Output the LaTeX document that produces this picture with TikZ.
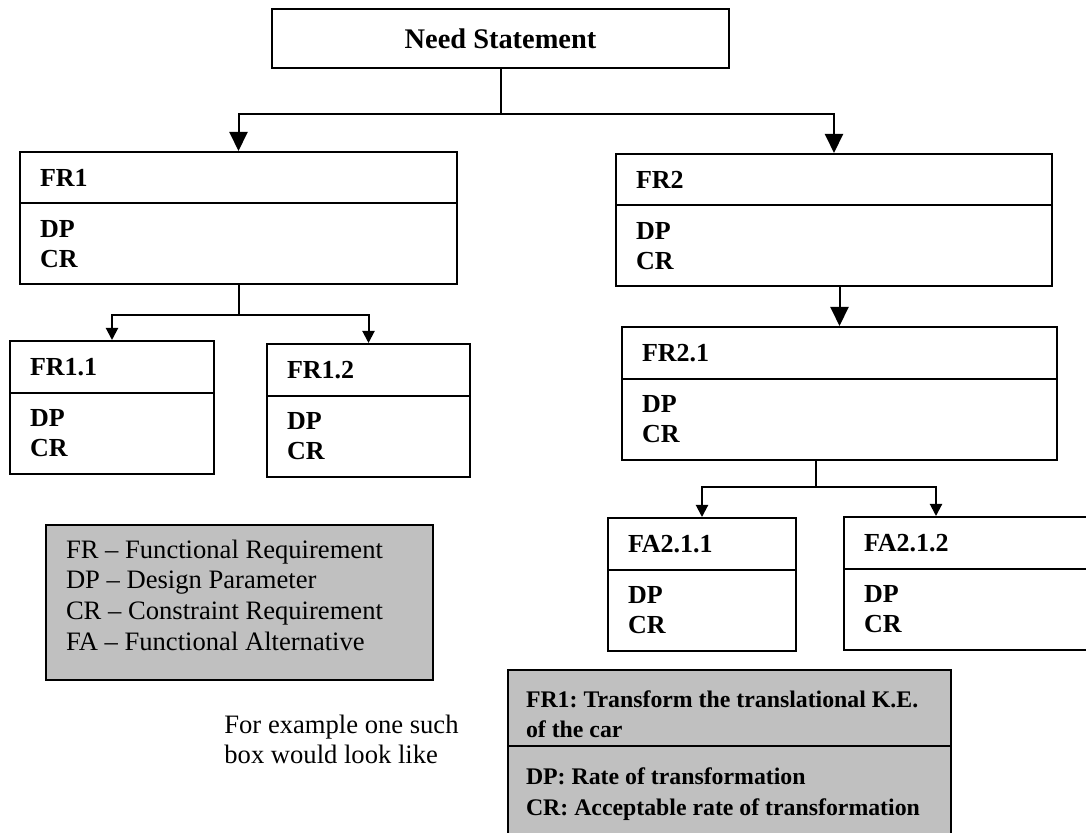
\documentclass[tikz,border=0pt]{standalone}
\usepackage{fontspec}
\setmainfont{Liberation Serif}
\usetikzlibrary{positioning,arrows.meta,shapes}
\definecolor{boxgray}{HTML}{C0C0C0}
\frenchspacing

\begin{document}
\begin{tikzpicture}[
    x=0.5pt, y=-0.5pt,
    reqbox/.style={draw, line width=1pt, rectangle split, rectangle split parts=2, rectangle split part align=left, align=flush left, anchor=north west, inner xsep=10pt, inner ysep=8pt, font=\bfseries\fontsize{13}{15}\selectfont},
    needbox/.style={draw, line width=1pt, minimum width=228.5pt, minimum height=29.5pt, font=\bfseries\fontsize{14.2}{17}\selectfont},
    legendbox/.style={draw, line width=1pt, fill=boxgray, anchor=north west, align=flush left, text width=173.5pt, inner xsep=10pt, inner ysep=0pt, font=\fontsize{13.3}{15.5}\selectfont},
    examplebox/.style={reqbox, fill=boxgray, inner xsep=9pt, inner ysep=0pt, font=\bfseries\fontsize{11.9}{15.25}\selectfont},
    notetext/.style={anchor=north west, align=left, inner sep=0pt, font=\fontsize{13.3}{15}\selectfont},
    bigarrow/.style={line width=1pt, -{Triangle[width=9pt,length=9.5pt]}},
    smallarrow/.style={line width=1pt, -{Triangle[width=6pt,length=6pt]}},
]
    \useasboundingbox (0,0) rectangle (1086,833);

    \node[needbox] (need) at (500.5,38.5) {Need Statement};

    \node[reqbox, text width=198.5pt] (fr1) at (19,151) {FR1\nodepart{two}DP\\CR};
    \node[reqbox, text width=198pt] (fr2) at (615,153) {FR2\nodepart{two}DP\\CR};
    \node[reqbox, text width=82pt] (fr11) at (9,340) {FR1.1\nodepart{two}DP\\CR};
    \node[reqbox, text width=81.5pt] (fr12) at (266,343) {FR1.2\nodepart{two}DP\\CR};
    \node[reqbox, text width=197.5pt] (fr21) at (621,326) {FR2.1\nodepart{two}DP\\CR};
    \node[reqbox, text width=74pt] (fa211) at (607,517) {FA2.1.1\nodepart{two}DP\\CR};
    \node[reqbox, text width=103.5pt] (fa212) at (843,516) {FA2.1.2\nodepart{two}DP\\CR};

    \node[legendbox] (legend) at (45,524) {\rule{0pt}{16.5pt}FR -- Functional Requirement\\DP -- Design Parameter\\CR -- Constraint Requirement\\FA -- Functional Alternative\rule[-14.5pt]{0pt}{14.5pt}};

    \node[notetext] (note) at (224,713) {\rule{0pt}{10pt}For example one such\\box would look like};

    \node[examplebox, text width=203.5pt] (example) at (507,669) {\rule{0pt}{18pt}FR1: Transform the translational K.E.\\of the car\rule[-3.5pt]{0pt}{3.5pt}\nodepart{two}\rule{0pt}{19pt}DP: Rate of transformation\\CR: Acceptable rate of transformation\rule[-30pt]{0pt}{30pt}};

    % connectors
    \draw[bigarrow] (need.south) -- ++(0,45) -| (fr1.north);
    \draw[bigarrow] (need.south) -- ++(0,45) -| (fr2.north);
    \draw[smallarrow] (fr1.south) -- ++(0,30) -| (fr11.north);
    \draw[smallarrow] (fr1.south) -- ++(0,30) -| (fr12.north);
    \draw[bigarrow] (fr2.south -| fr21.north) -- (fr21.north);
    \coordinate (j21) at (816,487);
    \draw[line width=1pt] (j21 |- fr21.south) -- (j21);
    \draw[smallarrow] (j21) -| (fa211.north);
    \draw[smallarrow] (j21) -| ([xshift=46.5pt]fa212.north west);
\end{tikzpicture}
\end{document}
